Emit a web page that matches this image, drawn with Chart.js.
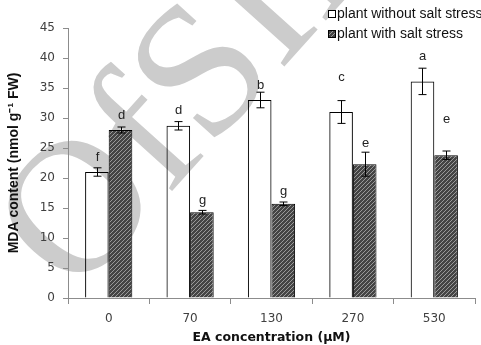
<!DOCTYPE html>
<html>
<head>
<meta charset="utf-8">
<script src="https://cdn.jsdelivr.net/npm/chart.js@4.4.0/dist/chart.umd.min.js"></script>
<style>
html, body { margin: 0; padding: 0; background: #fff; }
#wrap { width: 481px; height: 345px; }
</style>
</head>
<body>
<div id="wrap"><canvas id="mda-chart" width="481" height="345"></canvas></div>
<script>
const concentrations = ["0", "70", "130", "270", "530"];
const withoutSalt = [21.0, 28.7, 33.0, 31.0, 36.1];
const withoutSaltErr = [0.7, 0.7, 1.3, 1.9, 2.2];
const withSalt = [28.0, 14.3, 15.7, 22.3, 23.8];
const withSaltErr = [0.5, 0.3, 0.3, 2.0, 0.7];
const lettersWithout = ["f", "d", "b", "c", "a"];
const lettersWith = ["d", "g", "g", "e", "e"];
const letterYWithout = [23.5, 31.3, 35.5, 36.7, 40.3];
const letterYWith = [30.5, 16.3, 17.8, 25.7, 29.8];

function makeHatch() {
    const c = document.createElement("canvas");
    c.width = 4;
    c.height = 4;
    const g = c.getContext("2d");
    g.fillStyle = "#444";
    g.fillRect(0, 0, 4, 4);
    g.strokeStyle = "#999";
    g.lineWidth = 1;
    g.beginPath();
    g.moveTo(0, 4);
    g.lineTo(4, 0);
    g.moveTo(-1, 1);
    g.lineTo(1, -1);
    g.moveTo(3, 5);
    g.lineTo(5, 3);
    g.stroke();
    return g.createPattern(c, "repeat");
}
const hatch = makeHatch();

// grey archive stamp sitting behind the plot
const watermark = {
    id: "watermark",
    beforeDraw(chart) {
        const ctx = chart.ctx;
        ctx.save();
        ctx.translate(75, 299);
        ctx.rotate(-48 * Math.PI / 180);
        ctx.font = "190px 'Liberation Serif', 'Times New Roman', serif";
        ctx.fillStyle = "#cccccc";
        ctx.textBaseline = "alphabetic";
        ctx.fillText("OfSID", 0, 0);
        ctx.restore();
    }
};

const errorBars = {
    id: "errorBars",
    afterDatasetsDraw(chart) {
        const ctx = chart.ctx;
        const y = chart.scales.y;
        const errs = [withoutSaltErr, withSaltErr];
        const letters = [lettersWithout, lettersWith];
        const letterY = [letterYWithout, letterYWith];
        ctx.save();
        chart.data.datasets.forEach((ds, di) => {
            chart.getDatasetMeta(di).data.forEach((bar, i) => {
                const v = ds.data[i];
                const top = y.getPixelForValue(v + errs[di][i]);
                const bot = y.getPixelForValue(v - errs[di][i]);
                const x = Math.round(bar.x) + 0.5;
                ctx.strokeStyle = "#000";
                ctx.lineWidth = 1;
                ctx.beginPath();
                ctx.moveTo(x, top);
                ctx.lineTo(x, bot);
                ctx.moveTo(x - 4, top);
                ctx.lineTo(x + 4, top);
                ctx.moveTo(x - 4, bot);
                ctx.lineTo(x + 4, bot);
                ctx.stroke();
                ctx.fillStyle = "#222";
                ctx.font = "13px 'Liberation Sans', Arial, sans-serif";
                ctx.textAlign = "center";
                ctx.textBaseline = "middle";
                ctx.fillText(letters[di][i], x, y.getPixelForValue(letterY[di][i]));
            });
        });
        ctx.restore();
    }
};

const sideLegend = {
    id: "sideLegend",
    afterDraw(chart) {
        const ctx = chart.ctx;
        const swatches = ["#ffffff", hatch];
        ctx.save();
        ctx.font = "14px 'Liberation Sans', Arial, sans-serif";
        ctx.textBaseline = "middle";
        ctx.textAlign = "left";
        chart.data.datasets.forEach((ds, i) => {
            const yy = 14 + i * 20;
            ctx.fillStyle = swatches[i];
            ctx.fillRect(328, yy - 4, 8, 8);
            ctx.strokeStyle = "#000";
            ctx.lineWidth = 1;
            ctx.strokeRect(328.5, yy - 3.5, 7, 7);
            ctx.fillStyle = "#111";
            ctx.fillText(ds.label, 337, yy);
        });
        ctx.restore();
    }
};

new Chart(document.getElementById("mda-chart"), {
    type: "bar",
    data: {
        labels: concentrations,
        datasets: [
            {
                label: "plant without salt stress",
                data: withoutSalt,
                backgroundColor: "rgba(255,255,255,0)",
                borderColor: "#000000",
                borderWidth: 1,
                borderSkipped: "bottom",
            },
            {
                label: "plant with salt stress",
                data: withSalt,
                backgroundColor: hatch,
                borderColor: "#000000",
                borderWidth: 1,
                borderSkipped: "bottom",
            },
        ],
    },
    options: {
        responsive: false,
        animation: false,
        devicePixelRatio: 1,
        layout: { padding: { top: 28, right: 6, left: 0, bottom: 0 } },
        datasets: { bar: { categoryPercentage: 0.58, barPercentage: 1 } },
        scales: {
            x: {
                offset: true,
                border: { color: "#8c8c8c" },
                grid: { display: true, drawOnChartArea: false, offset: true, tickLength: 6, color: "#8c8c8c" },
                ticks: { color: "#404040", font: { family: "DejaVu Sans", size: 12 }, padding: 8 },
                title: {
                    display: true,
                    text: "EA concentration (µM)",
                    color: "#111",
                    font: { family: "DejaVu Sans", size: 12.5, weight: "bold" },
                    padding: { top: 3, bottom: 0 },
                },
                afterFit: (s) => { s.height = 47; },
            },
            y: {
                min: 0,
                max: 45,
                border: { color: "#8c8c8c" },
                grid: { display: true, drawOnChartArea: false, tickLength: 5, color: "#8c8c8c" },
                ticks: { stepSize: 5, color: "#404040", font: { family: "DejaVu Sans", size: 12 }, padding: 8 },
                title: {
                    display: true,
                    text: "MDA content (nmol g⁻¹ FW)",
                    color: "#111",
                    font: { family: "Liberation Sans", size: 14, weight: "bold" },
                    padding: { top: 6, bottom: 4 },
                },
                afterFit: (s) => { s.width = 68; },
            },
        },
        plugins: {
            legend: { display: false },
            tooltip: { enabled: false },
        },
    },
    plugins: [watermark, errorBars, sideLegend],
});
</script>
</body>
</html>
